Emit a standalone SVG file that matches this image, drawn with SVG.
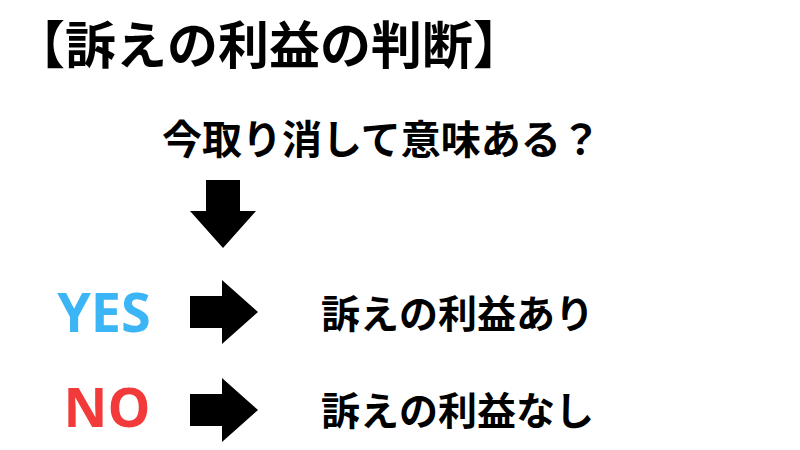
<svg xmlns="http://www.w3.org/2000/svg" width="800" height="450" viewBox="0 0 800 450">
<style>
text{font-family:"Noto Sans CJK JP","Noto Sans",sans-serif;font-weight:bold;fill:#000}
.en{font-family:"Open Sans","Noto Sans",sans-serif;font-size:54px}
.arr{fill:#000}
</style>
<rect width="800" height="450" fill="#fff"/>
<g id="title"><text x="14" y="64" font-size="51">【訴えの利益の判断】</text></g>
<g id="question"><text x="162" y="154" font-size="40">今取り消して意味ある？</text></g>
<g id="yes"><text x="104" y="332" text-anchor="middle" class="en" style="fill:#3bb5f5">YES</text></g>
<g id="no"><text x="107" y="427" text-anchor="middle" class="en" style="fill:#f23a3a">NO</text></g>
<g id="yes-result"><text x="321" y="328" font-size="39">訴えの利益あり</text></g>
<g id="no-result"><text x="321" y="425" font-size="39">訴えの利益なし</text></g>
<g id="connectors">
<polygon class="arr" points="206,180 240,180 240,211 256,211 223,248 190,211 206,211"/>
<polygon class="arr" points="190,296 222,296 222,280 258,312 222,344 222,328 190,328"/>
<polygon class="arr" points="190,394 222,394 222,378 258,410 222,442 222,426 190,426"/>
</g>
</svg>
